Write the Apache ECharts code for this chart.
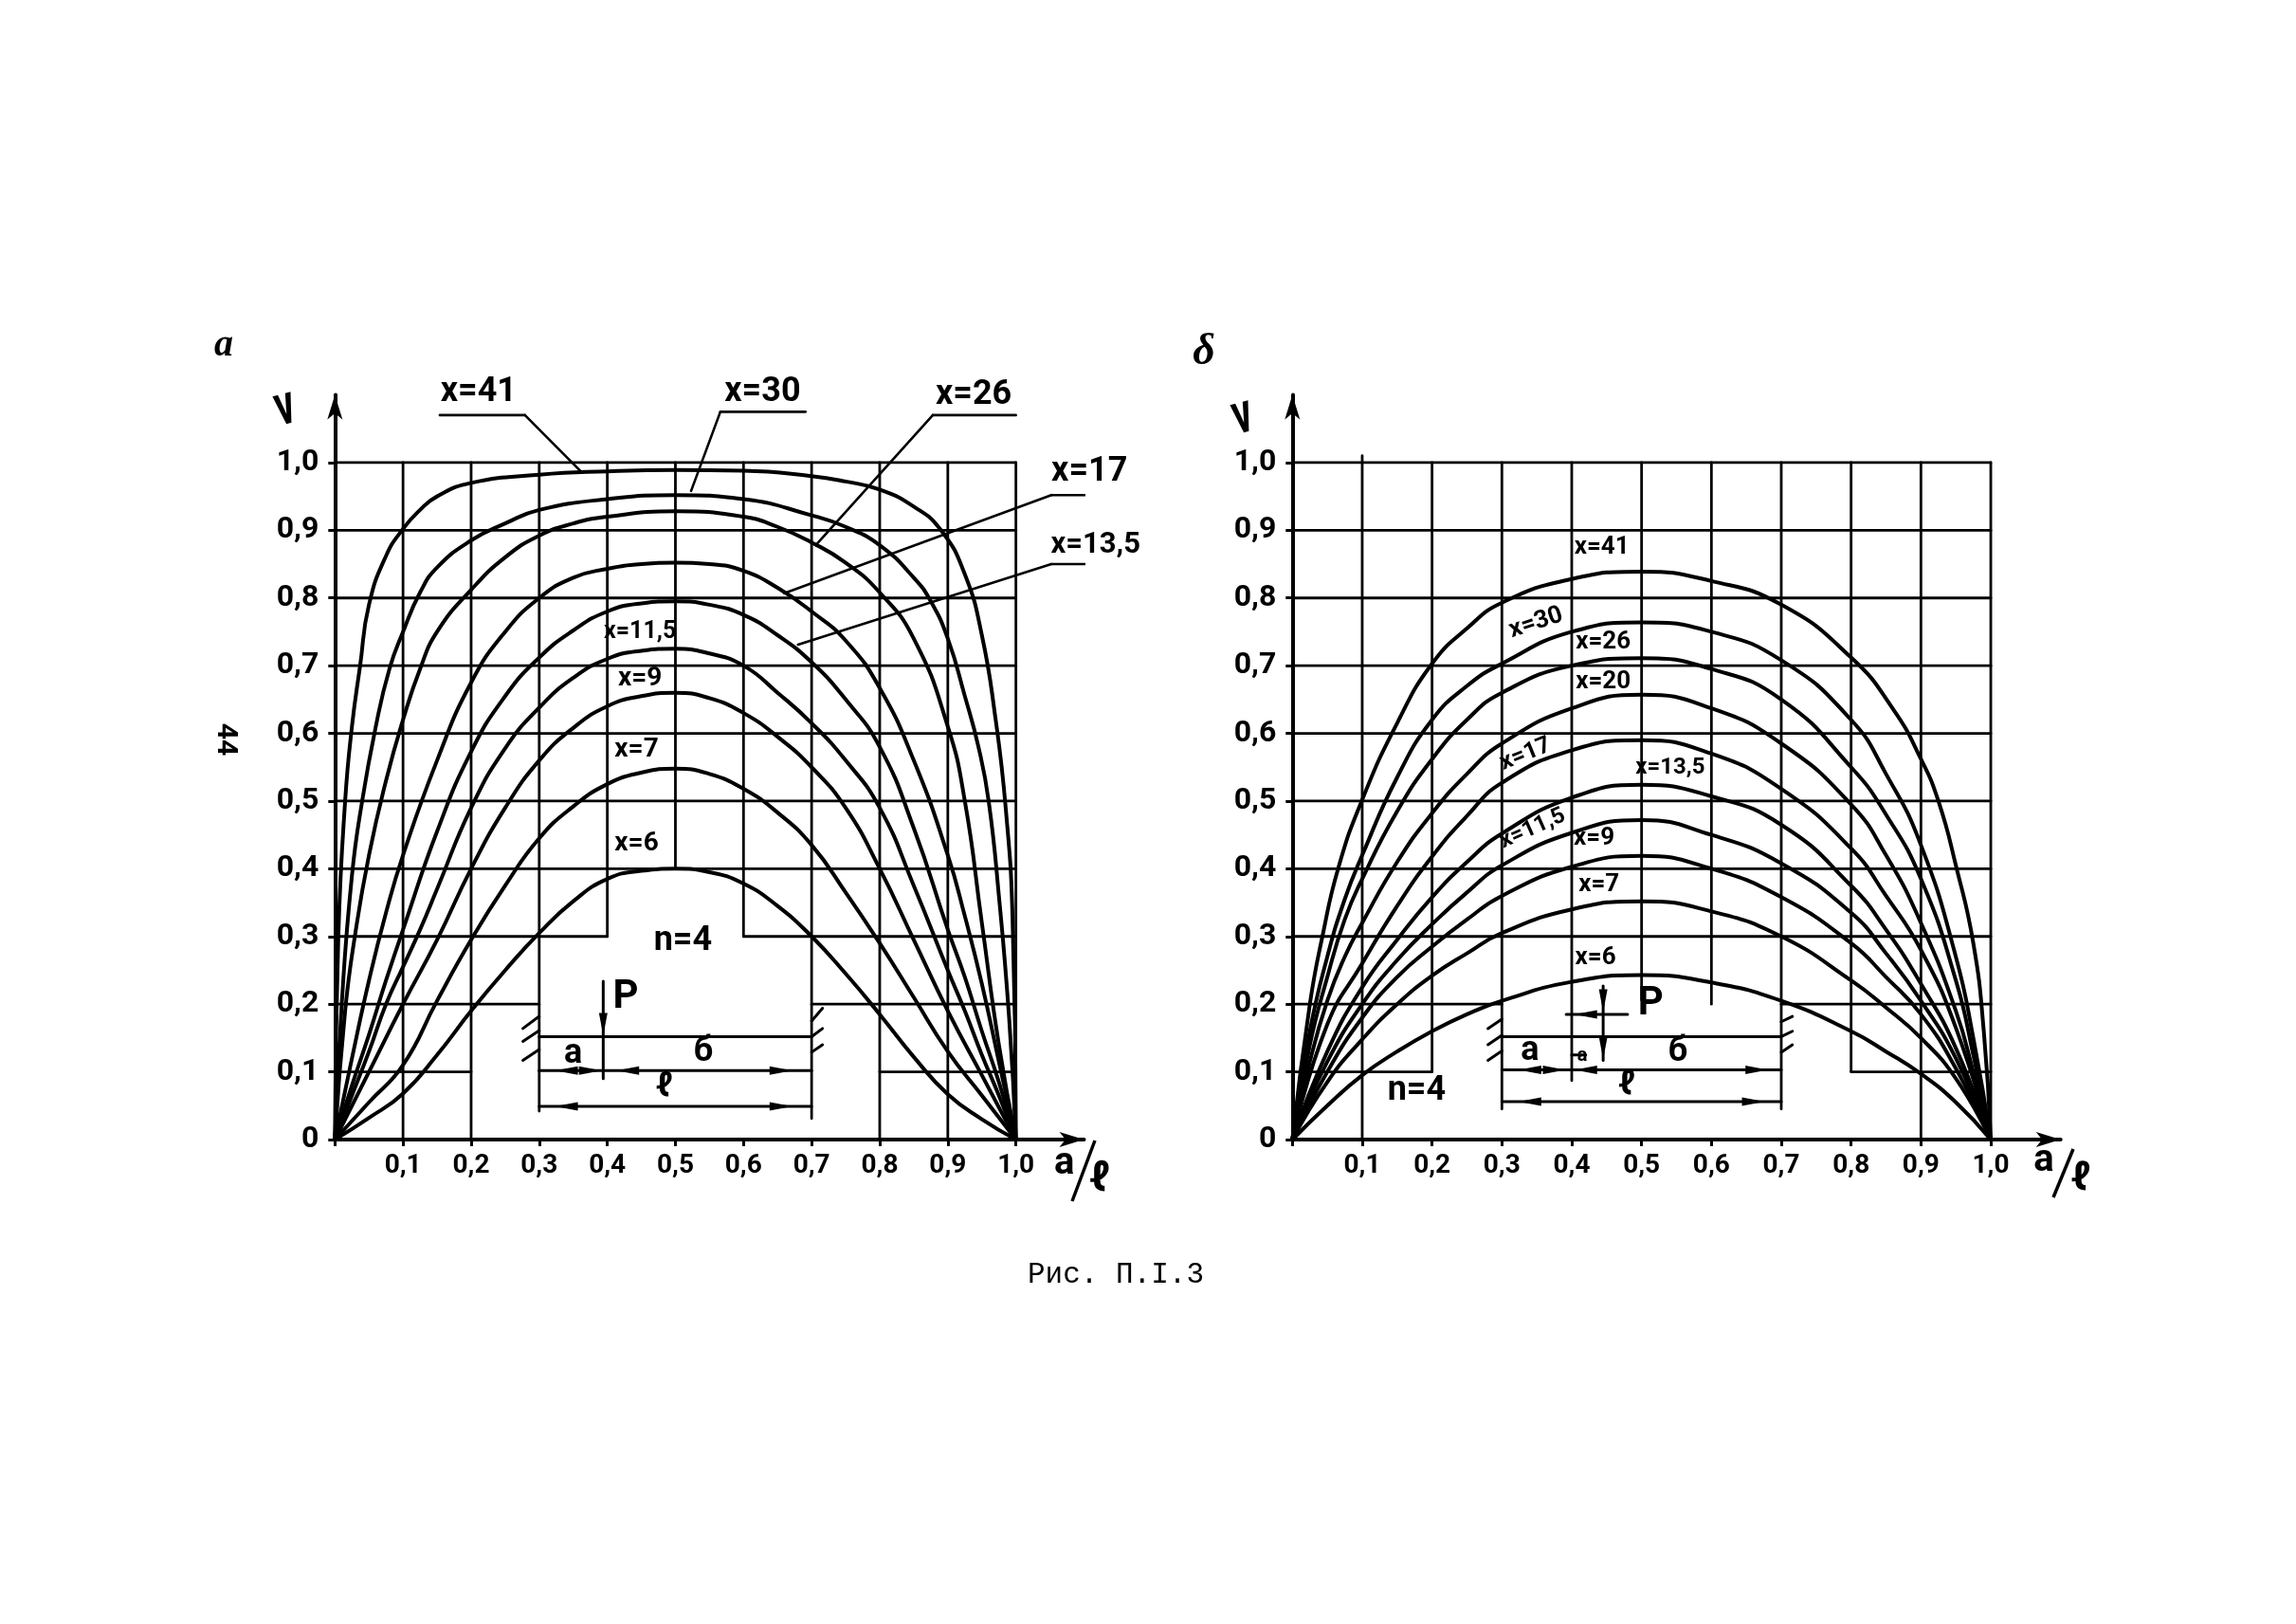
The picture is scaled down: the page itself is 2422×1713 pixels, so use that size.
<!DOCTYPE html>
<html>
<head>
<meta charset="utf-8">
<style>
  html, body { margin: 0; background: #fff; }
  #chart { width: 2422px; height: 1713px; }
</style>
</head>
<body>
<div id="chart"></div>
<script src="https://cdn.jsdelivr.net/npm/echarts@6/dist/echarts.min.js"></script>
<script>
const tickValues = [0, 0.1, 0.2, 0.3, 0.4, 0.5, 0.6, 0.7, 0.8, 0.9, 1.0];

// кривые рис. а: [a/l, v]
const a41 = [[0,0],[.005,.3],[.015,.5],[.025,.61],[.037,.7],[.05,.79],[.075,.862],[.1,.902],[.125,.93],[.15,.95],[.2,.97],[.3,.982],[.4,.987],[.5,.989],[.6,.988],[.7,.98],[.75,.972],[.8,.96],[.85,.935],[.89,.9],[.925,.835],[.95,.745],[.97,.622],[.985,.49],[.995,.33],[1,0]];
const a30 = [[0,0],[.01,.2],[.025,.39],[.04,.5],[.06,.61],[.08,.695],[.1,.75],[.125,.808],[.15,.845],[.2,.885],[.25,.91],[.3,.93],[.4,.946],[.5,.952],[.6,.946],[.7,.922],[.75,.905],[.8,.878],[.85,.83],[.875,.795],[.9,.74],[.925,.655],[.945,.58],[.96,.5],[.975,.36],[.99,.18],[1,0]];
const a26 = [[0,0],[.015,.19],[.03,.305],[.05,.42],[.075,.53],[.1,.62],[.125,.695],[.15,.75],[.2,.812],[.25,.86],[.3,.892],[.35,.91],[.4,.92],[.5,.928],[.6,.92],[.65,.905],[.7,.882],[.75,.852],[.8,.808],[.85,.74],[.9,.61],[.925,.5],[.95,.32],[.975,.14],[1,0]];
const a17 = [[0,0],[.025,.12],[.05,.235],[.075,.335],[.1,.42],[.15,.56],[.2,.675],[.25,.75],[.3,.8],[.35,.83],[.4,.843],[.45,.85],[.5,.852],[.55,.85],[.6,.84],[.65,.815],[.7,.78],[.75,.737],[.8,.667],[.85,.56],[.9,.42],[.925,.33],[.95,.23],[.975,.115],[1,0]];
const a135 = [[0,0],[.025,.08],[.05,.155],[.075,.235],[.1,.31],[.15,.455],[.2,.573],[.25,.655],[.3,.712],[.35,.752],[.4,.78],[.45,.792],[.5,.795],[.55,.79],[.6,.775],[.65,.745],[.7,.705],[.75,.65],[.8,.58],[.85,.46],[.9,.31],[.925,.24],[.95,.16],[.975,.085],[1,0]];
const a115 = [[0,0],[.025,.065],[.05,.13],[.075,.2],[.1,.255],[.125,.31],[.15,.37],[.2,.49],[.25,.578],[.3,.638],[.35,.682],[.4,.71],[.45,.722],[.5,.725],[.55,.718],[.6,.7],[.65,.66],[.7,.615],[.75,.56],[.8,.49],[.85,.375],[.9,.25],[.925,.19],[.95,.125],[.975,.065],[1,0]];
const a9 = [[0,0],[.05,.1],[.1,.2],[.15,.295],[.2,.4],[.25,.49],[.3,.56],[.35,.608],[.4,.64],[.45,.655],[.5,.66],[.55,.652],[.6,.63],[.65,.595],[.7,.55],[.75,.49],[.8,.4],[.85,.295],[.9,.19],[.95,.095],[1,0]];
const a7 = [[0,0],[.05,.055],[.1,.11],[.15,.205],[.2,.295],[.25,.375],[.3,.445],[.35,.492],[.4,.525],[.45,.542],[.5,.548],[.55,.54],[.6,.518],[.65,.483],[.7,.435],[.75,.365],[.8,.29],[.85,.21],[.9,.13],[.95,.065],[1,0]];
const a6 = [[0,0],[.05,.032],[.1,.068],[.15,.125],[.2,.19],[.25,.25],[.3,.305],[.35,.352],[.4,.385],[.45,.397],[.5,.4],[.55,.395],[.6,.378],[.65,.345],[.7,.3],[.75,.245],[.8,.185],[.85,.122],[.9,.067],[.95,.03],[1,0]];

// кривые рис. б
const b41 = [[0,0],[.025,.2],[.043,.3],[.066,.402],[.1,.502],[.15,.615],[.2,.703],[.25,.755],[.3,.793],[.4,.828],[.5,.839],[.6,.825],[.7,.79],[.8,.712],[.86,.636],[.9,.562],[.925,.5],[.95,.405],[.975,.29],[.99,.16],[1,0]];
const b30 = [[0,0],[.025,.16],[.05,.27],[.075,.355],[.1,.42],[.15,.535],[.2,.62],[.25,.67],[.3,.703],[.4,.75],[.5,.764],[.6,.75],[.7,.708],[.8,.62],[.85,.54],[.9,.435],[.95,.27],[.975,.15],[1,0]];
const b26 = [[0,0],[.025,.14],[.05,.24],[.075,.325],[.1,.385],[.15,.485],[.2,.562],[.25,.62],[.3,.66],[.4,.7],[.5,.711],[.6,.695],[.7,.65],[.8,.55],[.85,.48],[.9,.385],[.95,.235],[.975,.125],[1,0]];
const b20 = [[0,0],[.025,.115],[.05,.205],[.075,.27],[.1,.32],[.15,.41],[.2,.482],[.25,.54],[.3,.585],[.4,.637],[.5,.657],[.6,.637],[.7,.585],[.8,.495],[.85,.42],[.9,.32],[.95,.19],[.975,.1],[1,0]];
const b17 = [[0,0],[.05,.17],[.1,.26],[.15,.345],[.2,.418],[.25,.478],[.3,.527],[.4,.575],[.5,.59],[.6,.57],[.7,.518],[.8,.43],[.85,.36],[.9,.28],[.95,.165],[1,0]];
const b135 = [[0,0],[.05,.13],[.1,.225],[.15,.295],[.2,.358],[.25,.41],[.3,.452],[.4,.505],[.5,.524],[.6,.507],[.7,.465],[.8,.375],[.85,.31],[.9,.23],[.95,.135],[1,0]];
const b115 = [[0,0],[.05,.115],[.1,.2],[.15,.265],[.2,.318],[.25,.365],[.3,.405],[.4,.453],[.5,.472],[.6,.45],[.7,.408],[.8,.335],[.85,.275],[.9,.205],[.95,.12],[1,0]];
const b9 = [[0,0],[.05,.1],[.1,.18],[.15,.24],[.2,.285],[.25,.325],[.3,.36],[.4,.403],[.5,.419],[.6,.4],[.7,.358],[.8,.29],[.85,.24],[.9,.185],[.95,.105],[1,0]];
const b7 = [[0,0],[.05,.085],[.1,.148],[.15,.2],[.2,.242],[.25,.275],[.3,.305],[.4,.34],[.5,.352],[.6,.337],[.7,.3],[.8,.235],[.85,.195],[.9,.15],[.95,.09],[1,0]];
const b6 = [[0,0],[.05,.05],[.1,.095],[.15,.13],[.2,.16],[.25,.185],[.3,.205],[.4,.233],[.5,.243],[.6,.232],[.7,.205],[.8,.16],[.85,.13],[.9,.097],[.95,.055],[1,0]];

const curvesA = [a41, a30, a26, a17, a135, a115, a9, a7, a6];
const curvesB = [b41, b30, b26, b20, b17, b135, b115, b9, b7, b6];

// сетка: отрезки [x1, y1, x2, y2]
const gridA = [
  [0,1,1,1],[0,.9,1,.9],[0,.8,1,.8],[0,.7,1,.7],[0,.6,1,.6],[0,.5,1,.5],[0,.4,1,.4],
  [0,.3,.4,.3],[.6,.3,1,.3],[0,.2,.3,.2],[.7,.2,1,.2],[0,.1,.2,.1],[.8,.1,1,.1],
  [.1,0,.1,1],[.2,0,.2,1],[.3,.042,.3,1],[.4,.3,.4,1],[.5,.4,.5,1],[.6,.3,.6,1],
  [.7,.031,.7,1],[.8,0,.8,1],[.9,0,.9,1],[1,0,1,1]
];
const gridB = [
  [0,1,1,1],[0,.9,1,.9],[0,.8,1,.8],[0,.7,1,.7],[0,.6,1,.6],[0,.5,1,.5],[0,.4,1,.4],[0,.3,1,.3],
  [0,.2,.3,.2],[.7,.2,1,.2],[0,.1,.2,.1],[.8,.1,1,.1],
  [.1,0,.1,1.01],[.2,.1,.2,1],[.3,.045,.3,1],[.4,.087,.4,1],[.5,.206,.5,1],[.6,.2,.6,1],
  [.7,.045,.7,1],[.8,.1,.8,1],[.9,0,.9,1],[1,0,1,1]
];

// выноски и схема балки
const leadersA = [
  [.154,1.07,.279,1.07],[.279,1.07,.362,.986],
  [.566,1.075,.691,1.075],[.566,1.075,.523,.958],
  [.878,1.07,1,1.07],[.878,1.07,.706,.878],
  [1.052,.952,1.174,.952],[1.052,.952,.66,.807],
  [1.052,.85,1.174,.85],[1.052,.85,.68,.731]
];
const beamA = [
  [.3,.152,.7,.152],[.3,.102,.7,.102],[.3,.049,.7,.049],
  [.394,.09,.394,.234],
  [.276,.164,.3,.182],[.276,.145,.3,.161],[.276,.117,.3,.133],
  [.7,.175,.716,.194],[.7,.152,.716,.164],[.7,.129,.716,.14]
];
const beamB = [
  [.3,.152,.7,.152],[.3,.103,.7,.103],[.3,.056,.7,.056],
  [.392,.185,.48,.185],[.445,.117,.445,.227],[.4,.125,.42,.125],
  [.28,.164,.3,.178],[.28,.14,.3,.154],[.28,.117,.3,.131],
  [.7,.174,.716,.182],[.7,.152,.716,.16],[.7,.129,.716,.14]
];
// наконечники: [x, y, угол]
const arrowsA = [[.394,.17,180],[.34,.102,90],[.375,.102,-90],[.43,.102,90],[.655,.102,-90],[.34,.049,90],[.655,.049,-90]];
const arrowsB = [[.42,.185,90],[.445,.205,180],[.445,.135,180],[.34,.103,90],[.375,.103,-90],[.42,.103,90],[.665,.103,-90],[.34,.056,90],[.66,.056,-90]];

// подписи: [x, y, текст, поворот, размер]
const textsA = [
  [.211,1.103,'x=41',0,36],[.628,1.103,'x=30',0,36],[.938,1.1,'x=26',0,36],
  [1.108,.986,'x=17',0,36],[1.117,.878,'x=13,5',0,31],
  [.448,.75,'x=11,5',0,25],[.448,.681,'x=9',0,28],[.443,.575,'x=7',0,28],[.443,.437,'x=6',0,28],
  [.511,.292,'n=4',0,36],[.427,.21,'P',0,42],
  [.35,.126,'a',0,36],[.541,.129,'б',0,36],[.484,.077,'ℓ',0,36],
  [1.071,-.036,'a',0,40],[1.123,-.06,'ℓ',0,44]
];
const textsB = [
  [.443,.874,'x=41',0,26],[.349,.763,'x=30',18,26],[.445,.735,'x=26',0,26],[.445,.675,'x=20',0,26],
  [.334,.569,'x=17',22,25],[.541,.549,'x=13,5',0,24],[.344,.459,'x=11,5',24,24],
  [.432,.444,'x=9',0,26],[.439,.376,'x=7',0,26],[.434,.268,'x=6',0,26],
  [.178,.071,'n=4',0,36],[.513,.199,'P',0,42],
  [.34,.13,'a',0,36],[.415,.123,'a',0,20],[.552,.129,'б',0,36],[.479,.08,'ℓ',0,36],
  [1.076,-.032,'a',0,40],[1.129,-.06,'ℓ',0,42]
];

const tickFont = 'Roboto, sans-serif';
const formatTick = v => (v === 0 ? '0' : v > 1.01 ? '' : v.toFixed(1).replace('.', ','));

function segments(list, gridIndex, width) {
  return list.map(s => ({
    type: 'line', xAxisIndex: gridIndex, yAxisIndex: gridIndex,
    data: [[s[0], s[1]], [s[2], s[3]]],
    showSymbol: false, silent: true, clip: false,
    lineStyle: { color: '#000', width: width, cap: 'round' },
    z: 1
  }));
}

function curves(list, gridIndex) {
  return list.map(c => ({
    type: 'line', xAxisIndex: gridIndex, yAxisIndex: gridIndex,
    data: c, smooth: 0.5, showSymbol: false, silent: true,
    lineStyle: { color: '#000', width: 4 },
    z: 2
  }));
}

function arrowHeads(list, gridIndex) {
  return {
    type: 'scatter', xAxisIndex: gridIndex, yAxisIndex: gridIndex,
    symbol: 'triangle', symbolSize: [9, 24], clip: false, silent: true,
    data: list.map(p => ({ value: [p[0], p[1]], symbolRotate: p[2] })),
    itemStyle: { color: '#000', opacity: 1 }, z: 3
  };
}

function labels(list, gridIndex) {
  return {
    type: 'scatter', xAxisIndex: gridIndex, yAxisIndex: gridIndex,
    symbolSize: 0, clip: false, silent: true,
    itemStyle: { opacity: 1 },
    data: list.map(t => ({
      value: [t[0], t[1]],
      label: {
        show: true, position: 'inside', formatter: t[2], rotate: t[3],
        fontSize: t[4], fontWeight: 'bold', color: '#000',
        fontFamily: 'Roboto, sans-serif'
      }
    })),
    z: 4
  };
}

function axis(type, gridIndex) {
  return {
    type: 'value', gridIndex: gridIndex, min: 0, max: 1.1, interval: 0.1,
    splitLine: { show: false },
    axisLine: { onZero: false, symbol: ['none', 'arrow'], symbolSize: [12, 26], lineStyle: { color: '#000', width: 4 } },
    axisLabel: {
      color: '#000', fontFamily: tickFont, fontWeight: 'bold',
      fontSize: type === 'x' ? 28 : 32,
      margin: type === 'x' ? 14 : 17,
      formatter: v => (type === 'x' && v === 0 ? '' : formatTick(v)),
      customValues: tickValues
    },
    axisTick: {
      show: true, length: 7, inside: false,
      lineStyle: { color: '#000', width: 3 },
      customValues: tickValues
    }
  };
}

const myChart = echarts.init(document.getElementById('chart'), null, { renderer: 'canvas' });

const pageText = (x, y, text, font, rotation, scaleY) => ({
  type: 'text', x: x, y: y, rotation: rotation || 0, scaleY: scaleY || 1,
  style: { text: text, font: font, fill: '#000', align: 'center', verticalAlign: 'middle' }
});

myChart.setOption({
  animation: false,
  backgroundColor: '#fff',
  grid: [
    { left: 353.3, top: 416.5, width: 790.2, height: 785.5 },
    { left: 1363.3, top: 416.5, width: 810.4, height: 785.5 }
  ],
  xAxis: [axis('x', 0), axis('x', 1)],
  yAxis: [axis('y', 0), axis('y', 1)],
  graphic: [
    pageText(236, 365, 'а', 'italic bold 40px "Liberation Serif"'),
    pageText(1270, 372, 'δ', 'italic bold 46px "Liberation Serif"'),
    pageText(237, 780, '44', 'bold 30px Roboto', -Math.PI / 2),
    pageText(301, 432, 'ν', 'bold 40px Roboto', 0.25, 1.5),
    pageText(1311, 441, 'ν', 'bold 40px Roboto', 0.25, 1.5),
    pageText(1177, 1345, 'Рис. П.I.3', '31px "Liberation Mono"'),
    { type: 'line', shape: { x1: 1155, y1: 1203, x2: 1131, y2: 1267 }, style: { stroke: '#000', lineWidth: 3.5 } },
    { type: 'line', shape: { x1: 2187, y1: 1212, x2: 2166, y2: 1263 }, style: { stroke: '#000', lineWidth: 3.5 } }
  ],
  series: [].concat(
    segments(gridA, 0, 2.8), curves(curvesA, 0), segments(leadersA, 0, 2.6), segments(beamA, 0, 3), arrowHeads(arrowsA, 0), labels(textsA, 0),
    segments(gridB, 1, 2.8), curves(curvesB, 1), segments(beamB, 1, 3), arrowHeads(arrowsB, 1), labels(textsB, 1)
  )
});

window.addEventListener('resize', function() {
  myChart.resize();
});
</script>
</body>
</html>
